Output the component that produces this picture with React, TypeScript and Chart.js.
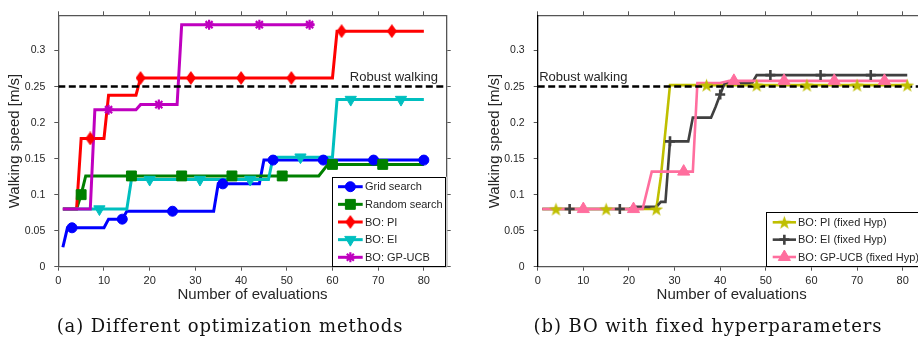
import React, { useEffect, useRef } from 'react';
import { Chart, registerables } from 'chart.js';
import { drawPoint } from 'chart.js/helpers';

Chart.register(...registerables);

// ---------------- shared axis settings ----------------
const X_MIN = 0;
const X_MAX = 85;
const X_STEP = 10;
const Y_MIN = 0;
const Y_MAX = 0.349;
const Y_STEP = 0.05;
const ROBUST_SPEED = 0.25;
const ROBUST_LABEL = 'Robust walking';
const X_TITLE = 'Number of evaluations';
const Y_TITLE = 'Walking speed [m/s]';

// ---------------- (a) Different optimization methods ----------------
const CAPTION_A = '(a) Different optimization methods';
const LABELS_A = ['Grid search', 'Random search', 'BO: PI', 'BO: EI', 'BO: GP-UCB'];

const gridX = [1, 2, 10, 11, 14, 15, 34, 35, 44, 45, 80];
const gridY = [0.027, 0.054, 0.054, 0.066, 0.066, 0.077, 0.077, 0.115, 0.115, 0.148, 0.148];
const gridMarkX = [3, 14, 25, 36, 47, 58, 69, 80];
const gridMarkY = [0.054, 0.066, 0.077, 0.115, 0.148, 0.148, 0.148, 0.148];

const randX = [1, 4, 5, 6, 57, 59, 80];
const randY = [0.08, 0.08, 0.1, 0.126, 0.126, 0.142, 0.142];
const randMarkX = [5, 16, 27, 38, 49, 60, 71];
const randMarkY = [0.1, 0.126, 0.126, 0.126, 0.126, 0.142, 0.142];

const piX = [1, 4, 5, 10, 11, 17, 18, 60, 61, 80];
const piY = [0.08, 0.08, 0.178, 0.178, 0.238, 0.238, 0.262, 0.262, 0.327, 0.327];
const piMarkX = [7, 18, 29, 40, 51, 62, 73];
const piMarkY = [0.178, 0.262, 0.262, 0.262, 0.262, 0.327, 0.327];

const eiX = [1, 15, 16, 46, 47, 60, 61, 80];
const eiY = [0.08, 0.08, 0.121, 0.121, 0.152, 0.152, 0.232, 0.232];
const eiMarkX = [9, 20, 31, 42, 53, 64, 75];
const eiMarkY = [0.08, 0.121, 0.121, 0.121, 0.152, 0.232, 0.232];

const ucbX = [1, 7, 8, 17, 18, 26, 27, 56];
const ucbY = [0.08, 0.08, 0.218, 0.218, 0.225, 0.225, 0.336, 0.336];
const ucbMarkX = [11, 22, 33, 44, 55];
const ucbMarkY = [0.218, 0.225, 0.336, 0.336, 0.336];

// ---------------- (b) BO with fixed hyperparameters ----------------
const CAPTION_B = '(b) BO with fixed hyperparameters';
const LABELS_B = ['BO: PI (fixed Hyp)', 'BO: EI (fixed Hyp)', 'BO: GP-UCB (fixed Hyp)'];

const piFX = [1, 26, 27, 29, 81];
const piFY = [0.08, 0.08, 0.125, 0.252, 0.252];
const piFMarkX = [4, 15, 26, 37, 48, 59, 70, 81];
const piFMarkY = [0.08, 0.08, 0.08, 0.252, 0.252, 0.252, 0.252, 0.252];

const eiFX = [1, 20, 21, 26, 27, 28, 29, 33, 34, 38, 39, 40, 41, 47, 48, 81];
const eiFY = [0.08, 0.08, 0.083, 0.083, 0.09, 0.09, 0.174, 0.174, 0.207, 0.207, 0.222, 0.239, 0.255, 0.255, 0.266, 0.266];
const eiFMarkX = [7, 18, 29, 40, 51, 62, 73];
const eiFMarkY = [0.08, 0.08, 0.174, 0.239, 0.266, 0.266, 0.266];

const ucbFX = [1, 23, 25, 34, 35, 40, 42, 81];
const ucbFY = [0.08, 0.08, 0.132, 0.132, 0.255, 0.255, 0.258, 0.258];
const ucbFMarkX = [10, 21, 32, 43, 54, 65, 76];
const ucbFMarkY = [0.08, 0.08, 0.132, 0.258, 0.258, 0.258, 0.258];

// ---------------- styling ----------------
const SANS = '"Liberation Sans", Arial, Helvetica, sans-serif';
const SERIF = '"DejaVu Serif", "Liberation Serif", serif';
const TXT = '#262626';
const AX = '#555555';
const CANVAS_H = 343;
const PLOT_TOP = 10;
const PLOT_BOTTOM = 266.7;

function makeDiamond(w: number, h: number, color: string) {
  const c = document.createElement('canvas');
  c.width = w; c.height = h;
  const g = c.getContext('2d')!;
  g.fillStyle = color;
  g.beginPath();
  g.moveTo(w / 2, 0); g.lineTo(w, h / 2); g.lineTo(w / 2, h); g.lineTo(0, h / 2);
  g.closePath(); g.fill();
  return c;
}

function makePentagram(size: number, color: string) {
  const c = document.createElement('canvas');
  c.width = size; c.height = size;
  const g = c.getContext('2d')!;
  const cx = size / 2, cy = size / 2 + 0.6, R = size / 2 - 0.3, r = R * 0.4;
  g.fillStyle = color;
  g.beginPath();
  for (let i = 0; i < 10; i++) {
    const a = -Math.PI / 2 + (i * Math.PI) / 5;
    const rr = i % 2 === 0 ? R : r;
    const px = cx + rr * Math.cos(a), py = cy + rr * Math.sin(a);
    if (i === 0) g.moveTo(px, py); else g.lineTo(px, py);
  }
  g.closePath(); g.fill();
  return c;
}

type Series = {
  label: string; xs: number[]; ys: number[]; mx: number[]; my: number[];
  color: string; lineWidth: number; pointStyle: any; radius: number; rotation: number; markerBorder: number;
};

const pts = (xs: number[], ys: number[]) => xs.map((x, i) => ({ x, y: ys[i] }));

const boxLegend = {
  id: 'boxLegend',
  afterDraw(chart: any, _args: any, opts: any) {
    if (!opts || !opts.items) return;
    const { ctx, chartArea: ca } = chart;
    const x0 = ca.right - opts.width;
    const y0 = ca.bottom - opts.height;
    ctx.save();
    ctx.fillStyle = '#fff';
    ctx.fillRect(x0, y0, opts.width, opts.height);
    ctx.strokeStyle = '#000';
    ctx.lineWidth = 1;
    ctx.strokeRect(Math.round(x0) + 0.5, Math.round(y0) + 0.5, Math.round(opts.width) - 1, Math.round(opts.height) - 1);
    opts.items.forEach((it: Series, i: number) => {
      const y = y0 + opts.first + i * opts.step;
      const a = x0 + opts.lineStart, b = x0 + opts.lineEnd;
      ctx.setLineDash([]);
      ctx.strokeStyle = it.color;
      ctx.lineWidth = it.lineWidth;
      ctx.beginPath(); ctx.moveTo(a, y); ctx.lineTo(b, y); ctx.stroke();
      ctx.fillStyle = it.color;
      ctx.strokeStyle = it.color;
      ctx.lineWidth = it.markerBorder;
      drawPoint(ctx, { pointStyle: it.pointStyle, radius: it.radius * opts.markerScale, rotation: it.rotation, borderWidth: it.markerBorder }, (a + b) / 2, y);
      ctx.fillStyle = TXT;
      ctx.font = `11px ${SANS}`;
      ctx.textBaseline = 'middle';
      ctx.textAlign = 'left';
      ctx.fillText(it.label, x0 + opts.textStart, y + 0.5);
    });
    ctx.restore();
  },
};

const robustLabel = {
  id: 'robustLabel',
  afterDatasetsDraw(chart: any, _args: any, opts: any) {
    if (!opts || !opts.text) return;
    const { ctx, chartArea: ca, scales } = chart;
    const y = scales.y.getPixelForValue(opts.value);
    ctx.save();
    ctx.font = `13px ${SANS}`;
    ctx.fillStyle = TXT;
    ctx.textBaseline = 'alphabetic';
    ctx.textAlign = opts.align;
    const x = opts.align === 'right' ? ca.right - opts.inset : ca.left + opts.inset;
    ctx.fillText(opts.text, x, y - opts.lift);
    ctx.restore();
  },
};

const fmtY = (v: any) => String(Math.round(Number(v) * 100) / 100);

function buildConfig(series: Series[], p: {
  canvasW: number; plotLeft: number; plotRight: number; yTitlePad: number; leftAxisColor: string;
  legend: any; label: any;
}) {
  const datasets: any[] = [];
  series.forEach((s, i) => {
    datasets.push({
      label: s.label, data: pts(s.xs, s.ys), showLine: true, borderColor: s.color, backgroundColor: s.color,
      borderWidth: s.lineWidth, pointRadius: 0, tension: 0, order: 20 - i, borderJoinStyle: 'miter',
    });
  });
  datasets.push({
    label: ROBUST_LABEL, data: pts([X_MIN, X_MAX], [ROBUST_SPEED, ROBUST_SPEED]), showLine: true,
    borderColor: '#000', borderWidth: 2.5, borderDash: [7, 3.5], pointRadius: 0, order: 10,
  });
  series.forEach((s, i) => {
    datasets.push({
      label: s.label + ' markers', data: pts(s.mx, s.my), showLine: false,
      pointStyle: s.pointStyle, pointRadius: s.radius, pointRotation: s.rotation,
      pointBackgroundColor: s.color, pointBorderColor: s.color, pointBorderWidth: s.markerBorder,
      order: 5 - i,
    });
  });

  const tickFont = { family: SANS, size: 11 };
  const titleFont = { family: SANS, size: 15 };
  const gridOpts = { drawOnChartArea: false, drawTicks: true, tickLength: 4, color: AX, lineWidth: 1 };

  return {
    type: 'scatter',
    data: { datasets },
    plugins: [robustLabel, boxLegend],
    options: {
      animation: false, responsive: false, devicePixelRatio: 1,
      layout: { padding: 0 },
      plugins: {
        legend: { display: false }, tooltip: { enabled: false }, title: { display: false },
        robustLabel: p.label, boxLegend: p.legend,
      },
      scales: {
        x: {
          type: 'linear', position: 'bottom', min: X_MIN, max: X_MAX,
          afterFit: (s: any) => { s.height = CANVAS_H - PLOT_BOTTOM; },
          ticks: { stepSize: X_STEP, includeBounds: false, font: tickFont, color: TXT, padding: 4, maxRotation: 0, autoSkip: false },
          grid: gridOpts, border: { color: AX, width: 1.3 },
          title: { display: true, text: X_TITLE, font: titleFont, color: TXT, padding: { top: 0, bottom: 39 } },
        },
        x2: {
          type: 'linear', position: 'top', min: X_MIN, max: X_MAX,
          afterFit: (s: any) => { s.height = PLOT_TOP; },
          ticks: { display: false, stepSize: X_STEP, includeBounds: false },
          grid: gridOpts, border: { color: AX, width: 1.3 },
        },
        y: {
          type: 'linear', position: 'left', min: Y_MIN, max: Y_MAX,
          afterFit: (s: any) => { s.width = p.plotLeft; },
          ticks: { stepSize: Y_STEP, includeBounds: false, font: { family: SANS, size: 10.5 }, color: TXT, padding: 9, callback: fmtY },
          grid: gridOpts, border: { color: p.leftAxisColor, width: 1.3 },
          title: { display: true, text: Y_TITLE, font: titleFont, color: TXT, padding: { top: p.yTitlePad, bottom: 0 } },
        },
        y2: {
          type: 'linear', position: 'right', min: Y_MIN, max: Y_MAX,
          afterFit: (s: any) => { s.width = p.canvasW - p.plotRight; },
          ticks: { display: false, stepSize: Y_STEP, includeBounds: false },
          grid: gridOpts, border: { color: AX, width: 1.3 },
        },
      },
    },
  };
}

function configA() {
  const series: Series[] = [
    { label: LABELS_A[0], xs: gridX, ys: gridY, mx: gridMarkX, my: gridMarkY, color: '#0000ff', lineWidth: 3, pointStyle: 'circle', radius: 5, rotation: 0, markerBorder: 1 },
    { label: LABELS_A[1], xs: randX, ys: randY, mx: randMarkX, my: randMarkY, color: '#008000', lineWidth: 3, pointStyle: 'rect', radius: 7, rotation: 0, markerBorder: 1 },
    { label: LABELS_A[2], xs: piX, ys: piY, mx: piMarkX, my: piMarkY, color: '#ff0000', lineWidth: 3, pointStyle: makeDiamond(10, 14, '#ff0000'), radius: 6, rotation: 0, markerBorder: 1 },
    { label: LABELS_A[3], xs: eiX, ys: eiY, mx: eiMarkX, my: eiMarkY, color: '#00bfbf', lineWidth: 3, pointStyle: 'triangle', radius: 6.5, rotation: 180, markerBorder: 1 },
    { label: LABELS_A[4], xs: ucbX, ys: ucbY, mx: ucbMarkX, my: ucbMarkY, color: '#bf00bf', lineWidth: 3, pointStyle: 'star', radius: 5, rotation: 0, markerBorder: 2.2 },
  ];
  return buildConfig(series, {
    canvasW: 462, plotLeft: 58.3, plotRight: 446.7, yTitlePad: 6, leftAxisColor: AX,
    legend: { items: series, width: 114.4, height: 90, first: 10, step: 17.65, lineStart: 5.7, lineEnd: 30.4, textStart: 32.7, markerScale: 1 },
    label: { text: ROBUST_LABEL, value: ROBUST_SPEED, align: 'right', inset: 8.7, lift: 6 },
  });
}

function configB() {
  const series: Series[] = [
    { label: LABELS_B[0], xs: piFX, ys: piFY, mx: piFMarkX, my: piFMarkY, color: '#bfbf00', lineWidth: 2.6, pointStyle: makePentagram(15, '#bfbf00'), radius: 7, rotation: 0, markerBorder: 1 },
    { label: LABELS_B[1], xs: eiFX, ys: eiFY, mx: eiFMarkX, my: eiFMarkY, color: '#404040', lineWidth: 2.6, pointStyle: 'cross', radius: 5, rotation: 0, markerBorder: 2.6 },
    { label: LABELS_B[2], xs: ucbFX, ys: ucbFY, mx: ucbFMarkX, my: ucbFMarkY, color: '#ff6e9e', lineWidth: 2.6, pointStyle: 'triangle', radius: 7, rotation: 0, markerBorder: 1 },
  ];
  return buildConfig(series, {
    canvasW: 471, plotLeft: 67.7, plotRight: 455.5, yTitlePad: 16, leftAxisColor: '#000',
    legend: { items: series, width: 159.5, height: 55, first: 10.6, step: 17.35, lineStart: 6.7, lineEnd: 30, textStart: 32, markerScale: 1 },
    label: { text: ROBUST_LABEL, value: ROBUST_SPEED, align: 'left', inset: 1.5, lift: 6 },
  });
}

function Panel({ left, width, make }: { left: number; width: number; make: () => any }) {
  const ref = useRef<HTMLCanvasElement>(null);
  useEffect(() => {
    const chart = new Chart(ref.current as HTMLCanvasElement, make());
    return () => chart.destroy();
  }, []);
  return (
    <canvas ref={ref} width={width} height={CANVAS_H}
      style={{ position: 'absolute', left, top: 0, width, height: CANVAS_H, display: 'block' }} />
  );
}

const captionStyle: React.CSSProperties = {
  position: 'absolute', top: 315, fontFamily: SERIF, fontSize: 18, lineHeight: '22px',
  letterSpacing: '0.9px', color: '#111', textAlign: 'center', whiteSpace: 'nowrap',
};

export default function App() {
  return (
    <div style={{ position: 'absolute', left: 0, top: 0, width: 918, height: 343, overflow: 'hidden', background: '#fff' }}>
      <Panel left={0} width={462} make={configA} />
      <Panel left={470} width={471} make={configB} />
      <div style={{ ...captionStyle, left: 0, width: 460 }}>{CAPTION_A}</div>
      <div style={{ ...captionStyle, left: 470, width: 476 }}>{CAPTION_B}</div>
    </div>
  );
}
